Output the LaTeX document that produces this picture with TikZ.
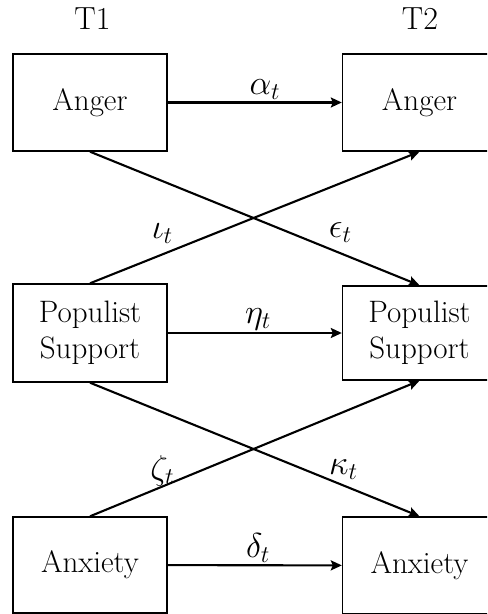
\documentclass[tikz,border=0pt]{standalone}
\usetikzlibrary{arrows.meta}
\begin{document}
\begin{tikzpicture}[x=0.5pt,y=-0.5pt,
  box/.style={draw, line width=0.7pt, minimum width=77pt, inner sep=0pt,
    font=\rmfamily\fontsize{15.5}{18}\selectfont, align=center},
  arr/.style={line width=1.05pt, -{Stealth[length=5.5pt,width=5pt,inset=1pt]}},
  lab/.style={font=\fontsize{17.5}{19}\selectfont, inner sep=1pt},
  head/.style={font=\rmfamily\fontsize{16}{18}\selectfont, inner sep=0pt}]
\useasboundingbox (0,0) rectangle (487,614);
\clip (0,0) rectangle (487,614);
\node[head] (t1) at (92.5,19) {T1};
\node[head] (t2) at (420,19) {T2};
\node[box, minimum height=48.5pt] (A1) at (90,102.5) {Anger};
\node[box, minimum height=48.5pt] (A2) at (419.5,102.5) {Anger};
\node[box, minimum height=49pt] (P1) at (90,333) {Populist\\Support};
\node[box, minimum height=47pt] (P2) at (419.5,333) {Populist\\Support};
\node[box, minimum height=48pt] (X1) at (90,565) {Anxiety};
\node[box, minimum height=48.5pt] (X2) at (419.5,565.5) {Anxiety};
\draw[arr] (A1) -- node[lab, pos=0.56, above] (la) {$\alpha_t$} (A2);
\draw[arr] (P1) -- node[lab, pos=0.52, above] (lh) {$\eta_t$} (P2);
\draw[arr] (X1) -- node[lab, pos=0.52, above] (ld) {$\delta_t$} (X2);
\draw[arr] (A1.south) -- node[lab, pos=0.76, yshift=10.5pt] (le) {$\epsilon_t$} (P2.north);
\draw[arr] (P1.north) -- node[lab, pos=0.22, yshift=10.5pt] (li) {$\iota_t$} (A2.south);
\draw[arr] (P1.south) -- node[lab, pos=0.77, yshift=8pt] (lk) {$\kappa_t$} (X2.north);
\draw[arr] (X1.north) -- node[lab, pos=0.22, yshift=8pt] (lz) {$\zeta_t$} (P2.south);
\end{tikzpicture}
\end{document}
